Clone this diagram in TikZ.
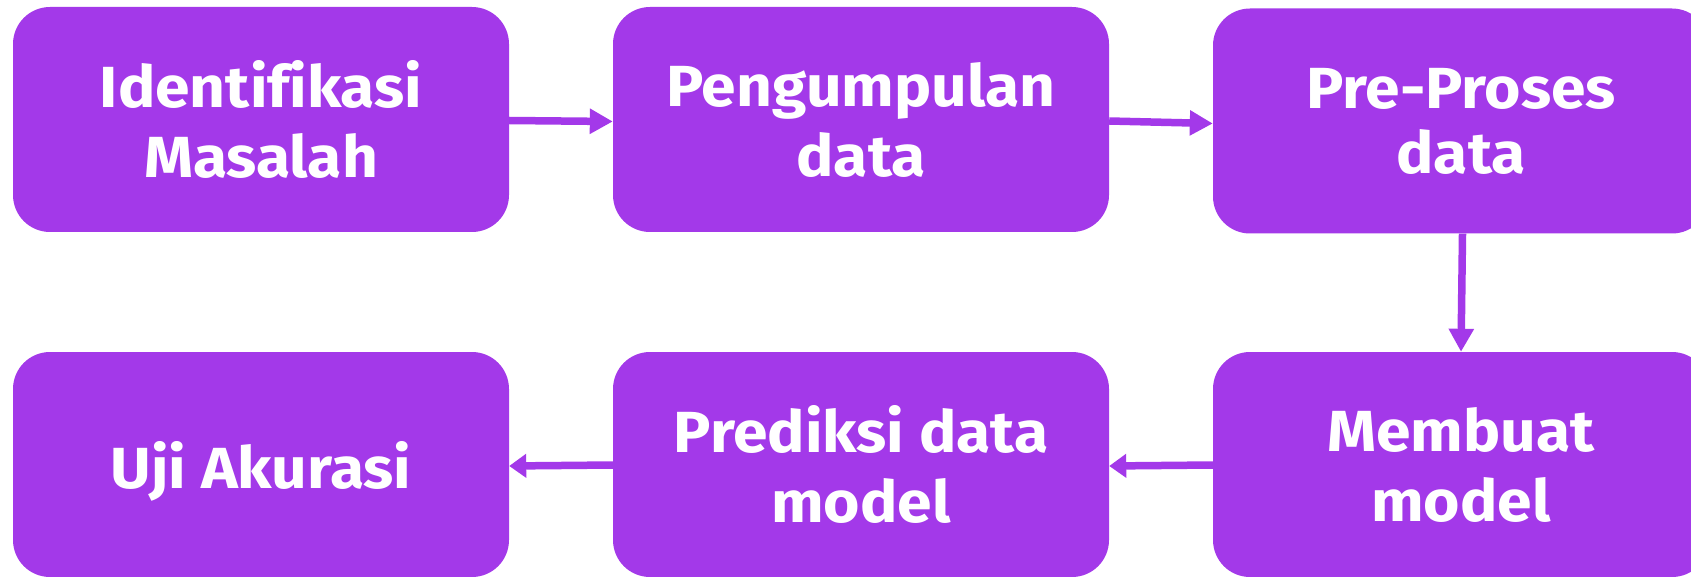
\documentclass[tikz,border=0pt]{standalone}
\usepackage{fontspec}
\setmainfont{Fira Sans}[Ligatures=NoCommon, FakeStretch=1.075]
\usetikzlibrary{arrows.meta}
\definecolor{flowpurple}{RGB}{163,57,233}
\begin{document}
\begin{tikzpicture}[x=1pt,y=-1pt,
  stepbox/.style={fill=flowpurple, rounded corners=37pt,
    minimum width=496pt, minimum height=225pt, inner sep=0pt,
    text=white, align=center, font=\fontsize{58}{70}\selectfont\bfseries},
  flow/.style={draw=flowpurple, line width=7.5pt,
    -{Triangle[length=23pt,width=24pt]}},
  flowback/.style={draw=flowpurple, line width=7.5pt,
    -{Triangle[length=17pt,width=23pt]}}]
\useasboundingbox (0,0) rectangle (1691,577);
\clip (0,0) rectangle (1691,577);

% top row
\node[stepbox] (ident) at (261,119.5) {Identifikasi\\Masalah};
\node[stepbox] (kumpul) at (861,119.5) {Pengumpulan\\data};
\node[stepbox, font=\fontsize{58}{65}\selectfont\bfseries] (prepro) at (1461,121) {Pre-Proses\\data};

% bottom row
\node[stepbox, text depth=0pt] (uji) at (261,464.5) {Uji Akurasi};
\node[stepbox] (prediksi) at (861,464.5) {Prediksi data\\model};
\node[stepbox] (membuat) at (1461,464.5) {Membuat\\model};

% connectors
\draw[flow] ([yshift=-1pt]ident.east) -- ([yshift=-2pt]kumpul.west);
\draw[flow] ([yshift=-1.5pt]kumpul.east) -- ([yshift=-2.5pt]prepro.west);
\draw[flow] ([xshift=1.5pt]prepro.south) -- (membuat.north);
\draw[flowback] ([yshift=-0.5pt]membuat.west) -- ([yshift=-1.5pt]prediksi.east);
\draw[flowback] ([yshift=-0.5pt]prediksi.west) -- ([yshift=-1.5pt]uji.east);
\end{tikzpicture}
\end{document}
